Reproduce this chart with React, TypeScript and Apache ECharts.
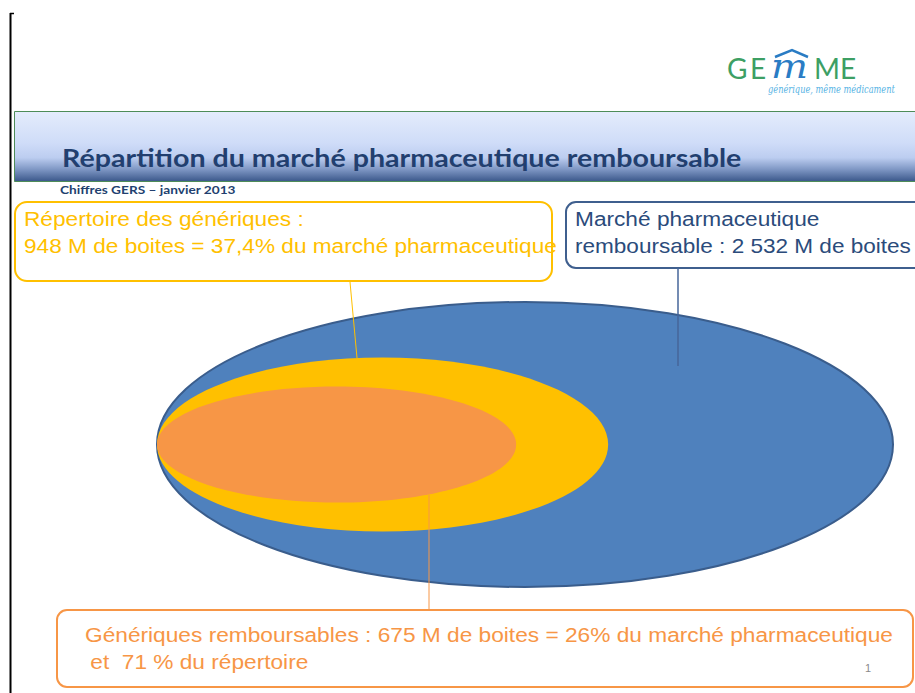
import React, { useEffect, useRef } from "react";
import * as echarts from "echarts";

// ---- data ----
const segmentNames = [
  "Marché pharmaceutique remboursable",
  "Répertoire des génériques",
  "Génériques remboursables",
];
const boxCountsM = [2532, 948, 675];
const shareOfMarketPct = [100, 37.4, 26];
const shareOfRepertoirePct = [null, 100, 71];
// ellipse extents, in % of the market ellipse
const ellipseWidthPct = [100, 61.3, 48.8];
const ellipseHeightPct = [100, 61.0, 40.7];

const titleText = "Répartition du marché pharmaceutique remboursable";
const subtitleText = "Chiffres GERS – janvier 2013";
const taglineText = "générique, même médicament";
const pageNumber = "1";

const fr = (v: number) => String(v).replace(".", ",");
const thousands = (v: number) => String(v).replace(/\B(?=(\d{3})+(?!\d))/g, " ");

const fills = ["#4f81bd", "#ffc000", "#f79646"];

let measureCtx: CanvasRenderingContext2D | null = null;
function fit(text: string, font: string, width: number) {
  if (!measureCtx) measureCtx = document.createElement("canvas").getContext("2d");
  if (!measureCtx) return 1;
  measureCtx.font = font;
  const w = measureCtx.measureText(text).width;
  return w > 0 ? width / w : 1;
}

function txt(
  text: string,
  x: number,
  baseline: number,
  size: number,
  fill: string,
  opts: { weight?: string; family?: string; style?: string; width?: number; scaleX?: number } = {}
) {
  const family = opts.family || "'Liberation Sans', Arial, sans-serif";
  const font = `${opts.style || "normal"} ${opts.weight || "normal"} ${size}px ${family}`;
  const sx = opts.width ? fit(text, font, opts.width) : opts.scaleX || 1;
  return {
    type: "text",
    x,
    y: baseline - size * 0.35,
    scaleX: sx,
    z: 100,
    style: { text, font, fill, textAlign: "left", verticalAlign: "middle" },
  };
}

export default function App() {
  const ref = useRef<HTMLDivElement>(null);

  useEffect(() => {
    document.body.style.margin = "0";
    if (!ref.current) return;
    const chart = echarts.init(ref.current, null, { renderer: "svg" });

    const repLine1 = `${segmentNames[1]} :`;
    const repLine2 = `${boxCountsM[1]} M de boites = ${fr(shareOfMarketPct[1])}% du marché pharmaceutique`;
    const mktLine1 = "Marché pharmaceutique";
    const mktLine2 = `remboursable : ${thousands(boxCountsM[0])} M de boites`;
    const genLine1 = `${segmentNames[2]} : ${boxCountsM[2]} M de boites = ${fr(shareOfMarketPct[2])}% du marché pharmaceutique`;
    const genLine2 = ` et  ${shareOfRepertoirePct[2]} % du répertoire`;

    const bodyScale = 1.08;

    const graphic: any[] = [
      // left frame line
      { type: "line", z: 100, shape: { x1: 10.5, y1: 13, x2: 10.5, y2: 693 }, style: { stroke: "#000", lineWidth: 2 } },
      { type: "line", z: 100, shape: { x1: 10, y1: 13.5, x2: 14, y2: 13.5 }, style: { stroke: "#000", lineWidth: 1.5 } },
      // title band
      {
        type: "rect",
        z: 50,
        shape: { x: 14.5, y: 111.5, width: 910, height: 70 },
        style: {
          fill: {
            type: "linear", x: 0, y: 0, x2: 0, y2: 1,
            colorStops: [
              { offset: 0, color: "#e4ecfc" },
              { offset: 0.45, color: "#cfdcf8" },
              { offset: 0.66, color: "#bccdf0" },
              { offset: 0.82, color: "#8199c6" },
              { offset: 1, color: "#3a578a" },
            ],
          },
          stroke: "#4e8c58",
          lineWidth: 1,
        },
      },
      txt(titleText, 62, 166, 25, "#223f6f", { weight: "bold", family: "Lato, 'Open Sans', sans-serif", width: 680 }),
      txt(subtitleText, 60, 194, 12, "#223f6f", { weight: "bold", family: "Lato, 'Open Sans', sans-serif", width: 176 }),
      // logo
      txt("G", 727, 78, 28, "#3d9f64", { family: "Lato, sans-serif" }),
      txt("E", 750, 78, 28, "#3d9f64", { family: "Lato, sans-serif" }),
      txt("m", 771, 78, 34, "#2a7cc4", { family: "'DejaVu Serif', serif", style: "italic", width: 37 }),
      txt("M", 814, 78, 28, "#3d9f64", { family: "Lato, sans-serif" }),
      txt("E", 840, 78, 28, "#3d9f64", { family: "Lato, sans-serif" }),
      {
        type: "polyline", z: 100,
        shape: { points: [[775, 57], [792, 50], [808, 57]] },
        style: { stroke: "#2a7cc4", lineWidth: 2.5, fill: null },
      },
      txt(taglineText, 768, 93, 11, "#56b3e4", { family: "'DejaVu Serif', serif", style: "italic", width: 127 }),
      // yellow box
      {
        type: "rect", z: 90,
        shape: { x: 15, y: 202, width: 537, height: 79, r: 12 },
        style: { fill: "#fff", stroke: "#ffc000", lineWidth: 2 },
      },
      txt(repLine1, 24, 226, 21, "#ffc000", { scaleX: bodyScale }),
      txt(repLine2, 24, 253, 21, "#ffc000", { width: 533 }),
      // blue box
      {
        type: "rect", z: 90,
        shape: { x: 566, y: 202, width: 370, height: 66, r: 10 },
        style: { fill: "#fff", stroke: "#3f5f8e", lineWidth: 2 },
      },
      txt(mktLine1, 575, 226, 21, "#2b4b7b", { scaleX: bodyScale }),
      txt(mktLine2, 575, 253, 21, "#2b4b7b", { width: 336 }),
      // orange box
      {
        type: "rect", z: 90,
        shape: { x: 57, y: 610, width: 856, height: 77, r: 10 },
        style: { fill: "#fff", stroke: "#f79646", lineWidth: 2 },
      },
      txt(genLine1, 85, 642, 21, "#f79646", { width: 808 }),
      txt(genLine2, 84, 669, 21, "#f79646", { scaleX: bodyScale }),
      txt(pageNumber, 865, 672, 11, "#8a8a8a"),
      // leader lines
      { type: "line", z: 100, shape: { x1: 350, y1: 282, x2: 357, y2: 358 }, style: { stroke: "#ffc000", lineWidth: 1 } },
      { type: "line", z: 100, shape: { x1: 678, y1: 268, x2: 678, y2: 366 }, style: { stroke: "#46669a", lineWidth: 1.5 } },
      { type: "line", z: 100, shape: { x1: 429, y1: 495, x2: 429, y2: 610 }, style: { stroke: "#f79646", lineWidth: 1 } },
    ];

    const data = segmentNames.map((name, i) => ({
      name,
      value: [ellipseWidthPct[i], ellipseHeightPct[i], boxCountsM[i]],
    }));

    chart.setOption({
      animation: false,
      backgroundColor: "#ffffff",
      grid: { left: 157, top: 302, width: 736, height: 285, containLabel: false },
      xAxis: { type: "value", min: 0, max: 100, show: false },
      yAxis: { type: "value", min: -50, max: 50, show: false },
      series: [
        {
          type: "custom",
          coordinateSystem: "cartesian2d",
          data,
          encode: { x: 0, y: 1 },
          renderItem: (params: any, api: any) => {
            const i = params.dataIndex;
            const w = api.value(0);
            const h = api.value(1);
            const p0 = api.coord([0, 0]);
            const p1 = api.coord([w, h / 2]);
            const rx = (p1[0] - p0[0]) / 2;
            const ry = p0[1] - p1[1];
            return {
              type: "ellipse",
              shape: { cx: p0[0] + rx, cy: p0[1], rx, ry },
              style: {
                fill: fills[i],
                stroke: i === 0 ? "#3a5d8c" : null,
                lineWidth: i === 0 ? 2 : 0,
              },
            };
          },
        },
      ],
      graphic,
    });

    return () => chart.dispose();
  }, []);

  return <div ref={ref} style={{ width: 915, height: 693 }} />;
}
